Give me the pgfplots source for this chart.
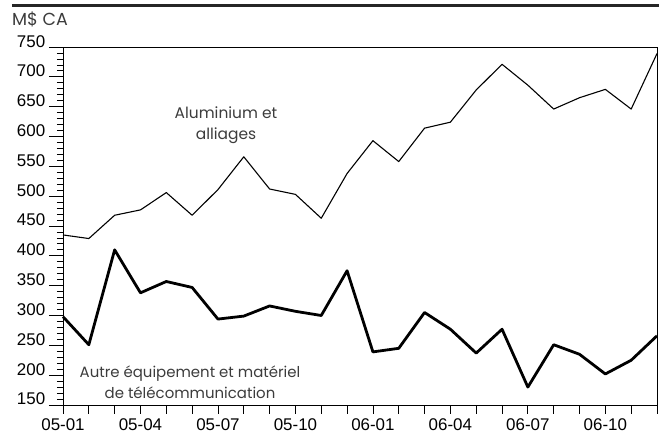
\documentclass[border=0pt]{standalone}
\usepackage{pgfplots}
\pgfplotsset{compat=1.18}
\usepackage{fontspec}
\setmainfont{Liberation Sans}
\newfontfamily\geo{Poppins}
\definecolor{txtgray}{RGB}{60,60,60}
\begin{document}
\begin{tikzpicture}
\begin{axis}[
  at={(0,0)}, anchor=south west,
  scale only axis, width=594bp, height=358bp,
  xmin=0, xmax=23, ymin=150, ymax=750,
  xtick={0,3,...,21},
  xticklabels={05-01,05-04,05-07,05-10,06-01,06-04,06-07,06-10},
  minor xtick={0,...,23},
  ytick={150,200,...,750},
  minor y tick num=4,
  tick align=outside, tick pos=left,
  xtick style={/pgfplots/major tick length=9bp,/pgfplots/minor tick length=9bp, black, line width=0.8pt},
  ytick style={/pgfplots/major tick length=14bp,/pgfplots/minor tick length=6bp, black, line width=0.8pt},
  /pgf/number format/assume math mode=true,
  ticklabel style={font=\fontsize{17}{19}\selectfont},
  yticklabel style={anchor=base east, xshift=-10bp, yshift=0bp},
  xticklabel style={yshift=-6bp},
  axis line style={line width=0.9pt},
  clip=false,
]
\addplot[black, line width=1.1pt, line join=round] coordinates {
(0,435) (1,429) (2,468) (3,477) (4,506) (5,468) (6,511) (7,566) (8,512) (9,503) (10,463) (11,538)
(12,593) (13,558) (14,614) (15,624) (16,678) (17,721) (18,686) (19,646) (20,665) (21,679) (22,646) (23,739)};
\addplot[black, line width=2.8pt, line join=round] coordinates {
(0,298) (1,251) (2,410) (3,338) (4,357) (5,347) (6,294) (7,299) (8,316) (9,307) (10,300) (11,375)
(12,239) (13,245) (14,305) (15,277) (16,237) (17,277) (18,180) (19,251) (20,235) (21,202) (22,225) (23,266)};
\end{axis}
\draw[line width=3.5bp, color=black!85] (-51bp,399.5bp) -- (596bp,399.5bp);
\node[anchor=base west, inner sep=0pt, text=txtgray, font=\geo\fontsize{17.5}{19}\selectfont] at (-51bp,379bp) {M\$ CA};
\node[align=center, inner sep=0pt, text=txtgray, font=\geo\fontsize{15.5}{21}\selectfont] at (163bp,279.5bp) {Aluminium et\\alliages};
\node[align=center, inner sep=0pt, text=txtgray, font=\geo\fontsize{15}{21}\selectfont] at (127bp,23bp) {Autre équipement et matériel\\de télécommunication};
\path (-63bp,-26bp) rectangle (598bp,405bp);
\end{tikzpicture}
\end{document}
